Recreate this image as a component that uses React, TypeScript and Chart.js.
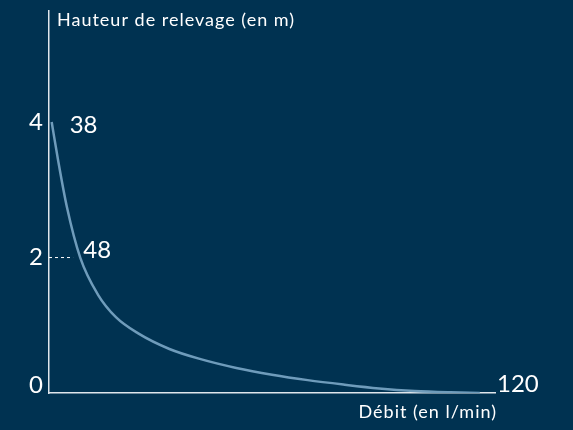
import React, { useEffect, useRef } from "react";
import { Chart, registerables } from "chart.js";

Chart.register(...registerables);

// Curve (x: relative position along the flow axis 0..100, y: head in m)
const curveX = [0.6, 2, 4, 7, 11, 15, 20, 27, 34, 42, 50, 58, 66, 74, 82, 90, 96.6];
const curveY = [4.0, 3.45, 2.75, 2.0, 1.45, 1.12, 0.88, 0.65, 0.5, 0.37, 0.27, 0.19, 0.125, 0.068, 0.03, 0.01, 0];

const yTickValues = [0, 2, 4];
const yTickLabels = ["0", "2", "4"];

// Flow annotations (l/min) at given heights
const flowLabels = ["38", "48", "120"];
const flowLabelX = [0.6, 7.0, 100];
const flowLabelY = [4, 2, 0];

const guideX = [0, 5.4];
const guideY = [2, 2];

const yTitle = "Hauteur de relevage (en m)";
const xTitle = "Débit (en l/min)";

const BG = "#003251";
const CURVE = "#6f9cbb";
const AXIS = "#dfe6ec";
const FONT = "Lato, 'Open Sans', sans-serif";

export default function App() {
  const ref = useRef<HTMLCanvasElement | null>(null);

  useEffect(() => {
    document.body.style.margin = "0";
    document.body.style.background = BG;
    const canvas = ref.current;
    if (!canvas) return;

    const textPlugin = {
      id: "texts",
      afterDraw(chart: any) {
        const ctx = chart.ctx;
        const xs = chart.scales.x;
        const ys = chart.scales.y;
        ctx.save();
        ctx.fillStyle = "#ffffff";
        ctx.textBaseline = "middle";
        // y tick labels
        ctx.font = `24px ${FONT}`;
        ctx.textAlign = "right";
        yTickValues.forEach((v, i) => {
          const py = ys.getPixelForValue(v);
          ctx.fillText(yTickLabels[i], xs.left - 6, py + (v === 0 ? -8 : 0));
        });
        // flow labels
        ctx.textAlign = "left";
        flowLabels.forEach((lab, i) => {
          const px = xs.getPixelForValue(flowLabelX[i]);
          const py = ys.getPixelForValue(flowLabelY[i]);
          const dx = i === 0 ? 18 : i === 1 ? 3 : 2;
          const dy = i === 0 ? 3 : i === 1 ? -7 : -9;
          ctx.fillText(lab, px + dx, py + dy);
        });
        // titles
        ctx.font = `18px ${FONT}`;
        try { (ctx as any).letterSpacing = "1px"; } catch (e) {}
        ctx.textAlign = "left";
        ctx.fillText(yTitle, xs.left + 8, 20);
        ctx.textAlign = "right";
        ctx.fillText(xTitle, xs.right + 2, 412);
        ctx.restore();
      },
    };

    const chart = new Chart(canvas, {
      type: "line",
      data: {
        datasets: [
          {
            data: curveX.map((x, i) => ({ x, y: curveY[i] })),
            borderColor: CURVE,
            borderWidth: 2.5,
            pointRadius: 0,
            cubicInterpolationMode: "monotone",
            fill: false,
          },
          {
            data: guideX.map((x, i) => ({ x, y: guideY[i] })),
            borderColor: "#ffffff",
            borderWidth: 1,
            borderDash: [3, 3],
            pointRadius: 0,
            fill: false,
          },
        ],
      },
      options: {
        animation: false,
        responsive: false,
        maintainAspectRatio: false,
        layout: { padding: { left: 49, right: 78, top: 11, bottom: 37 } },
        plugins: { legend: { display: false }, tooltip: { enabled: false } },
        scales: {
          x: {
            type: "linear",
            min: 0,
            max: 100,
            ticks: { display: false },
            grid: { display: false, drawTicks: false },
            border: { display: true, color: AXIS, width: 1.5 },
          },
          y: {
            type: "linear",
            min: 0,
            max: 5.64,
            ticks: { display: false },
            grid: { display: false, drawTicks: false },
            border: { display: true, color: AXIS, width: 1.5 },
          },
        },
      },
      plugins: [textPlugin],
    });
    return () => chart.destroy();
  }, []);

  return (
    <div style={{ width: 573, height: 430, background: BG }}>
      <canvas ref={ref} width={573} height={430} style={{ display: "block" }} />
    </div>
  );
}
